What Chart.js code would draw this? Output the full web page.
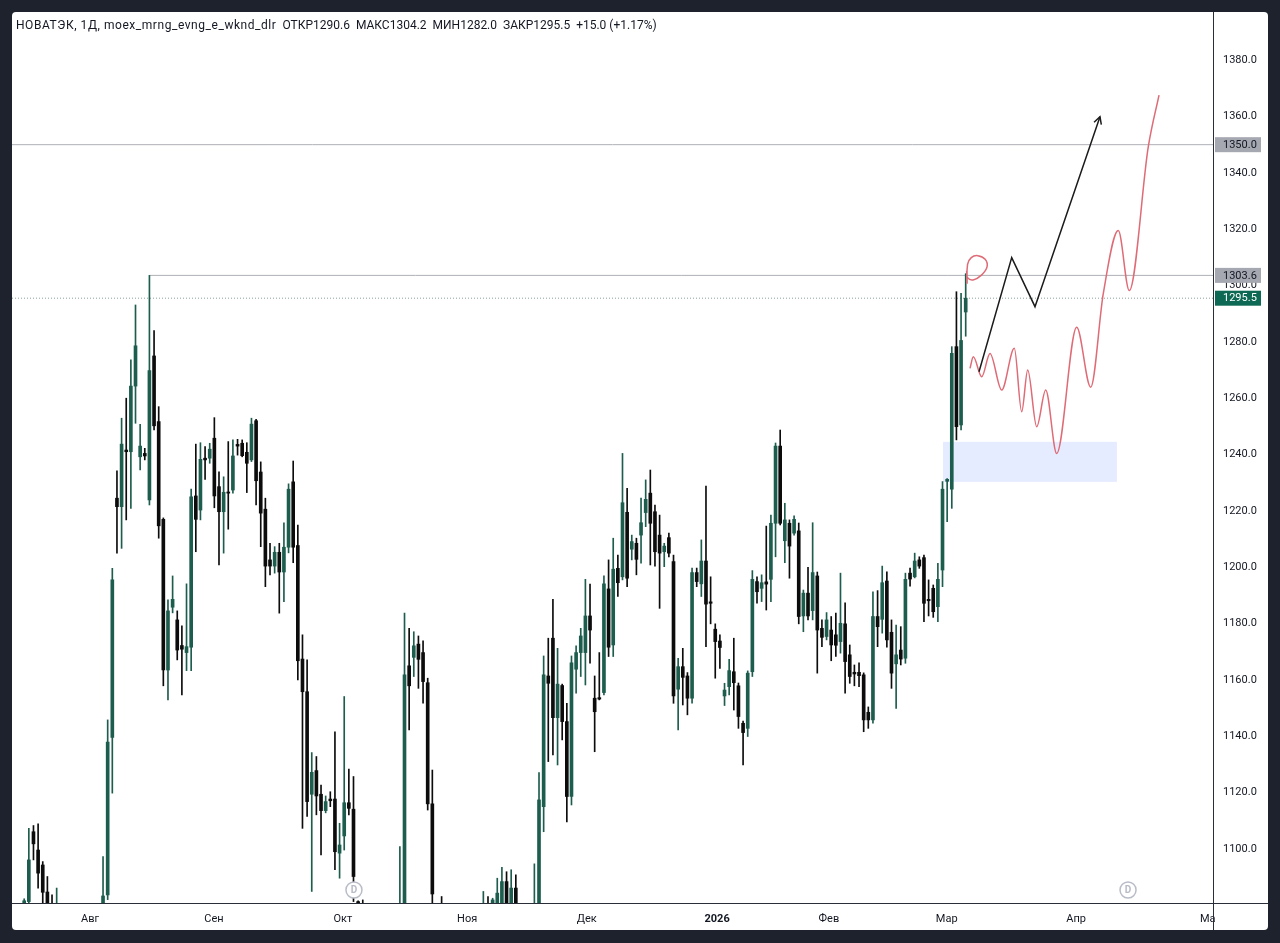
<!DOCTYPE html>
<html lang="ru">
<head>
<meta charset="utf-8">
<title>НОВАТЭК, 1Д</title>
<script src="https://cdn.jsdelivr.net/npm/chart.js@4.4.1/dist/chart.umd.min.js"></script>
<style>
  html, body { margin: 0; padding: 0; background: #1e222d; }
  body { width: 1280px; height: 943px; overflow: hidden; position: relative; }
  #panel { position: absolute; left: 12px; top: 12px; width: 1256px; height: 918px; background: #fff; border-radius: 4px; overflow: hidden; }
  #chart { position: absolute; left: 0; top: 0; }
  #legend { position: absolute; left: 4px; top: 6px; font: 12px Roboto, sans-serif; color: #131722; white-space: nowrap; }
  #legend .ticker { letter-spacing: 0.55px; }
  #legend span.v { margin-left: 6px; }
</style>
</head>
<body>
<div id="panel">
  <canvas id="chart" width="1256" height="918"></canvas>
  <div id="legend"></div>
</div>
<script>
const ticker = "НОВАТЭК, 1Д, moex_mrng_evng_e_wknd_dlr";

// one value per bar slot, slot 0 at the left edge; null = bar is off screen (below the pane)
const opens = [
  null, null, 1080.2, 1081.3, 1106.1, 1099.6, 1094.3, 1084.7, 1077, 1073,
  null, null, null, null, null, null, null, null, null, 1070,
  1083.7, 1139.6, 1224.5, 1221.5, 1241.6, 1241.0, 1264.3, 1239.2, 1240.4, 1223.9,
  1275.0, 1251.7, 1217.0, 1163.5, 1185.8, 1181.3, 1172.2, 1169.7, 1171.6, 1225.3,
  1220.3, 1238.7, 1238.7, 1245.8, 1228.6, 1219.7, 1226.7, 1227.4, 1243.6, 1244.0,
  1240.8, 1238.1, 1252.0, 1233.8, 1220.6, 1202.6, 1200.4, 1205.3, 1198.3, 1207.1,
  1230.3, 1207.7, 1167.4, 1155.8, 1119.4, 1127.8, 1119.4, 1113.6, 1117.7, 1117.7,
  1098.5, 1104.6, 1116.4, 1114.1, 1081.3, 1078, null, null, null, null,
  null, null, null, 1072, 1077, 1165.0, 1168.0, 1172.7, 1169.7, 1159.0,
  1116.0, null, 1074, null, null, null, null, null, null, null,
  null, 1070, 1080.5, 1078, 1079, 1080, 1088.4, 1079, 1086.1, null,
  null, null, 1072, 1079, 1115.0, 1161.4, 1174.8, 1146.6, 1158.0, 1145.2,
  1118.6, 1163.8, 1169.7, 1169.7, 1182.7, 1153.5, 1153.7, 1155.5, 1192.3, 1172.4,
  1199.6, 1196.6, 1219.5, 1206.4, 1208.5, 1211.4, 1219.4, 1226.3, 1219.7, 1211.4,
  1205.5, 1210.5, 1202.0, 1156.7, 1164.7, 1161.4, 1153.5, 1198.1, 1194.1, 1202.2,
  1187.7, 1178.0, 1173.8, 1154.3, 1157.6, 1162.9, 1157.9, 1144.6, 1142.8, 1162.9,
  1194.9, 1192.5, 1194.8, 1195.7, 1215.6, 1243.0, 1209.4, 1215.6, 1212.1, 1212.9,
  1182.7, 1190.8, 1184.6, 1196.9, 1178.3, 1175.4, 1177.7, 1176.0, 1173.6, 1179.9,
  1168.9, 1162.7, 1162.7, 1161.8, 1148.5, 1145.8, 1182.5, 1181.5, 1195.1, 1176.9,
  1165.7, 1170.6, 1167.7, 1197.9, 1196.6, 1202.6, 1203.4, 1188.6, 1192.5, 1186.0,
  1199.0, 1230.5, 1227.7, 1278.3, 1250.5, 1290.6
];
const highs = [
  null, null, 1082.3, 1107.3, 1108.3, 1108.9, 1095.5, 1090.2, 1083.7, 1086.1,
  null, null, null, null, null, null, null, null, null, 1097.3,
  1145.8, 1199.6, 1234.2, 1252.9, 1260.0, 1273.6, 1293.1, 1250.7, 1242.2, 1303.6,
  1284.0, 1257.0, 1217.5, 1188.4, 1196.9, 1184.5, 1179.2, 1194.1, 1227.7, 1243.7,
  1244.2, 1242.8, 1244.0, 1253.1, 1233.9, 1232.1, 1244.6, 1245.2, 1245.4, 1245.2,
  1244.2, 1252.9, 1252.5, 1237.4, 1224.5, 1208.5, 1207.3, 1208.5, 1215.8, 1229.6,
  1237.7, 1215.0, 1176.0, 1167.1, 1134.2, 1132.8, 1122.7, 1118.8, 1120.3, 1141.6,
  1109.1, 1154.1, 1128.3, 1125.7, 1081.6, 1081.9, null, null, null, null,
  null, null, null, 1100.8, 1183.7, 1178.3, 1177.1, 1175.6, 1173.9, 1160.6,
  1128.0, null, 1083.1, null, null, null, null, null, null, null,
  null, 1084.9, 1083.1, 1082.5, 1089.6, 1093.5, 1091.9, 1092.6, 1090.8, null,
  null, null, 1094.7, 1127.1, 1168.5, 1174.8, 1188.6, 1171.2, 1158.5, 1151.7,
  1168.5, 1172.1, 1178.3, 1195.7, 1194.0, 1161.4, 1169.7, 1196.9, 1202.6, 1210.3,
  1204.3, 1240.4, 1228.0, 1211.4, 1210.3, 1224.5, 1231.0, 1234.5, 1222.1, 1218.5,
  1208.5, 1212.1, 1204.3, 1167.7, 1171.2, 1162.6, 1199.7, 1199.7, 1209.7, 1228.8,
  1196.6, 1179.9, 1176.0, 1158.8, 1167.3, 1174.8, 1158.9, 1145.4, 1163.2, 1198.8,
  1196.6, 1197.3, 1214.6, 1218.5, 1244.1, 1248.7, 1222.7, 1216.8, 1218.2, 1215.7,
  1191.9, 1200.0, 1215.8, 1198.3, 1181.3, 1183.9, 1182.5, 1183.7, 1197.9, 1187.4,
  1172.4, 1165.3, 1166.1, 1162.5, 1150.4, 1191.3, 1191.7, 1200.4, 1198.4, 1181.3,
  1179.5, 1178.9, 1197.9, 1199.7, 1205.0, 1203.7, 1204.3, 1195.5, 1193.7, 1201.4,
  1230.4, 1231.5, 1278.3, 1297.8, 1297.2, 1304.2
];
const lows = [
  null, null, 1078, 1078, 1096.1, 1086.1, 1078, 1072, 1070, 1068,
  null, null, null, null, null, null, null, null, null, 1065,
  1082, 1119.8, 1205.0, 1206.7, 1216.8, 1220.9, 1251.1, 1234.5, 1238.1, 1222.1,
  1248.7, 1210.3, 1157.9, 1152.9, 1183.8, 1167.1, 1154.7, 1163.3, 1163.3, 1205.5,
  1216.8, 1231.2, 1236.9, 1221.1, 1200.8, 1205.0, 1213.5, 1226.3, 1239.8, 1239.2,
  1226.5, 1237.5, 1222.1, 1207.3, 1193.1, 1197.3, 1197.9, 1183.7, 1187.8, 1205.1,
  1201.6, 1160.0, 1107.3, 1111.5, 1084.9, 1112.1, 1097.9, 1112.8, 1115.0, 1092.6,
  1089.6, 1099.6, 1112.1, 1081.3, 1075, 1070, null, null, null, null,
  null, null, null, 1065, 1074, 1142.2, 1161.2, 1157.0, 1151.7, 1113.8,
  1070, null, 1068, null, null, null, null, null, null, null,
  null, 1065, 1072, 1074, 1075, 1076, 1076, 1075, 1074, null,
  null, null, 1064, 1075, 1106.1, 1131.0, 1133.4, 1129.8, 1138.7, 1109.6,
  1115.6, 1155.3, 1161.2, 1158.2, 1165.9, 1134.5, 1152.9, 1154.7, 1168.3, 1168.3,
  1189.6, 1195.5, 1193.1, 1202.6, 1197.3, 1201.4, 1214.4, 1200.8, 1200.4, 1185.4,
  1200.2, 1203.7, 1151.7, 1142.2, 1151.1, 1147.6, 1151.7, 1193.1, 1189.6, 1171.8,
  1179.9, 1160.6, 1164.1, 1150.9, 1154.7, 1149.3, 1142.8, 1129.8, 1139.9, 1161.2,
  1187.2, 1187.8, 1184.8, 1187.8, 1203.7, 1215.0, 1201.6, 1196.1, 1211.4, 1179.9,
  1177.1, 1181.3, 1181.3, 1162.4, 1171.8, 1174.2, 1166.8, 1168.3, 1169.5, 1155.3,
  1158.8, 1157.9, 1157.6, 1141.6, 1142.8, 1144.6, 1171.8, 1176.6, 1171.6, 1157.0,
  1149.9, 1165.3, 1165.9, 1193.3, 1196.2, 1199.6, 1180.7, 1182.7, 1182.2, 1180.7,
  1193.1, 1216.2, 1220.9, 1245.2, 1248.7, 1282.0
];
const closes = [
  null, null, 1081.6, 1096.1, 1101.8, 1091.4, 1084.6, 1076, 1073, 1075,
  null, null, null, null, null, null, null, null, null, 1083.3,
  1137.9, 1195.5, 1221.5, 1243.7, 1241.0, 1264.3, 1278.6, 1243.0, 1239.5, 1269.8,
  1250.2, 1214.7, 1163.5, 1184.5, 1188.6, 1170.6, 1170.9, 1171.8, 1225.0, 1217.0,
  1238.3, 1238.1, 1241.9, 1225.3, 1219.7, 1226.6, 1226.3, 1239.5, 1243.0, 1239.6,
  1236.9, 1250.8, 1230.7, 1219.2, 1200.4, 1200.4, 1205.3, 1198.3, 1207.1, 1227.7,
  1207.1, 1166.8, 1155.8, 1116.8, 1127.2, 1118.8, 1113.6, 1116.8, 1117.1, 1099.0,
  1101.4, 1116.4, 1114.4, 1090.2, 1078, 1074, null, null, null, null,
  null, null, null, 1077, 1161.8, 1157.9, 1172.1, 1167.3, 1159.4, 1116.0,
  1084.0, null, 1070, null, null, null, null, null, null, null,
  null, 1075, 1077, 1081.9, 1084.3, 1088.4, 1079, 1086.1, 1078, null,
  null, null, 1079, 1117.4, 1161.8, 1158.8, 1146.6, 1158.5, 1145.2, 1118.6,
  1166.1, 1169.7, 1175.6, 1182.7, 1177.7, 1148.7, 1153.2, 1194.1, 1171.6, 1199.3,
  1194.5, 1222.9, 1196.1, 1209.1, 1202.8, 1215.8, 1224.1, 1215.6, 1205.5, 1205.0,
  1207.5, 1205.0, 1154.3, 1164.7, 1160.9, 1153.5, 1198.1, 1194.9, 1202.2, 1186.9,
  1187.2, 1173.6, 1171.5, 1156.4, 1163.3, 1159.0, 1147.0, 1141.3, 1162.4, 1195.7,
  1191.3, 1194.5, 1194.0, 1215.6, 1243.0, 1215.6, 1216.8, 1207.5, 1217.0, 1182.5,
  1190.8, 1182.7, 1198.1, 1177.7, 1175.1, 1181.3, 1172.4, 1172.3, 1180.1, 1166.5,
  1161.2, 1162.1, 1161.5, 1145.8, 1145.8, 1182.5, 1178.9, 1194.5, 1174.2, 1162.4,
  1168.9, 1167.4, 1195.7, 1195.8, 1202.2, 1200.4, 1187.2, 1188.1, 1184.2, 1195.7,
  1227.7, 1231.2, 1275.9, 1249.9, 1280.5, 1295.5
];

// time axis: month labels placed at the slot where each month starts
const monthLabels = ["Авг", "Сен", "Окт", "Ноя", "Дек", "2026", "Фев", "Мар", "Апр", "Ма"];
const monthPos = [16.2, 42.9, 70.7, 97.5, 123.3, 151.4, 175.5, 200.9, 228.8, 257.2];
const priceTicks = [1100, 1120, 1140, 1160, 1180, 1200, 1220, 1240, 1260, 1280, 1300, 1320, 1340, 1360, 1380];

// visible range of the pane
const xMin = -0.63, xMax = 258.32;
const yMin = 1080.8, yMax = 1397.1;

// drawings on the chart
const resistance = 1350.0;
const prevHigh = 1303.6, prevHighIdx = 29;
const zoneIdx = [200.1, 237.6];
const zonePrice = [1230.3, 1244.5];
const arrowIdx = [207.87, 214.92, 219.94, 233.95];
const arrowPrice = [1269.4, 1309.9, 1292.5, 1359.9];
const waveIdx = [205.93, 206.64, 208.45, 210.24, 212.76, 215.48, 217.07, 218.37, 220.31,
  222.25, 224.62, 228.93, 231.95, 234.67, 237.9, 240.27, 244.37, 246.68];
const wavePrice = [1270.6, 1274.7, 1267.6, 1275.9, 1262.9, 1277.7, 1255.2, 1270.0, 1249.9,
  1262.9, 1240.4, 1285.2, 1263.9, 1297.2, 1319.5, 1298.2, 1349.3, 1367.6];
const loopIdx = [205.3, 205.4, 206.2, 207.6, 209.2, 209.6, 208.4, 206.6, 205.4, 205.2];
const loopPrice = [1300.6, 1307.5, 1309.9, 1310.6, 1309.3, 1306.6, 1303.7, 1302.0, 1302.8, 1305.2];
const dividendIdx = [73.1, 240.0];

const UP = "#1d5d4d";
const DOWN = "#0c0c0c";
const FONT = "Roboto";

const last = opens.length - 1;
const change = closes[last] - closes[last - 1];
const changePct = (change / closes[last - 1]) * 100;
const sign = (v) => (v >= 0 ? "+" : "");

document.getElementById("legend").innerHTML =
  `<span class="ticker">${ticker}</span><span class="v">ОТКР${opens[last].toFixed(1)}</span>` +
  `<span class="v">МАКС${highs[last].toFixed(1)}</span><span class="v">МИН${lows[last].toFixed(1)}</span>` +
  `<span class="v">ЗАКР${closes[last].toFixed(1)}</span>` +
  `<span class="v">${sign(change)}${change.toFixed(1)} (${sign(changePct)}${changePct.toFixed(2)}%)</span>`;

const wicks = [];
const bodies = [];
opens.forEach((o, i) => {
  if (o === null) return;
  const up = closes[i] >= o;
  wicks.push({ x: i, y: [lows[i], highs[i]], up });
  bodies.push({ x: i, y: [o, closes[i]], up });
});

const candleColor = (c) => (c.raw && c.raw.up ? UP : DOWN);
const pts = (xs, ys) => xs.map((x, i) => ({ x, y: ys[i] }));

const overlays = {
  id: "overlays",
  beforeDatasetsDraw(chart) {
    const { ctx, scales: { x, y } } = chart;
    const x0 = x.getPixelForValue(zoneIdx[0]);
    const x1 = x.getPixelForValue(zoneIdx[1]);
    const y0 = y.getPixelForValue(zonePrice[1]);
    const y1 = y.getPixelForValue(zonePrice[0]);
    ctx.save();
    ctx.fillStyle = "rgba(41, 98, 255, 0.12)";
    ctx.fillRect(x0, y0, x1 - x0, y1 - y0);
    ctx.restore();
  },
  afterDatasetsDraw(chart) {
    const { ctx, chartArea, scales: { x, y } } = chart;
    ctx.save();

    // arrow head at the end of the black path
    const n = arrowIdx.length - 1;
    const tx = x.getPixelForValue(arrowIdx[n]);
    const ty = y.getPixelForValue(arrowPrice[n]);
    const px = x.getPixelForValue(arrowIdx[n - 1]);
    const py = y.getPixelForValue(arrowPrice[n - 1]);
    const ang = Math.atan2(ty - py, tx - px);
    ctx.strokeStyle = "#1b1b1b";
    ctx.lineWidth = 1.5;
    ctx.beginPath();
    ctx.moveTo(tx - 8 * Math.cos(ang - 0.5), ty - 8 * Math.sin(ang - 0.5));
    ctx.lineTo(tx, ty);
    ctx.lineTo(tx - 8 * Math.cos(ang + 0.5), ty - 8 * Math.sin(ang + 0.5));
    ctx.stroke();

    // dividend markers along the bottom of the pane
    dividendIdx.forEach((d) => {
      const cx = x.getPixelForValue(d);
      const cy = chartArea.bottom - 13;
      ctx.fillStyle = "#fff";
      ctx.strokeStyle = "#b8bcc6";
      ctx.lineWidth = 1.5;
      ctx.beginPath();
      ctx.arc(cx, cy, 8, 0, Math.PI * 2);
      ctx.fill();
      ctx.stroke();
      ctx.fillStyle = "#b8bcc6";
      ctx.font = `bold 10px ${FONT}`;
      ctx.textAlign = "center";
      ctx.textBaseline = "middle";
      ctx.fillText("D", cx, cy + 0.5);
    });
    ctx.restore();
  },
  afterDraw(chart) {
    const { ctx, chartArea, scales: { y } } = chart;
    ctx.save();
    ctx.strokeStyle = "#2a2e39";
    ctx.lineWidth = 1;
    ctx.beginPath();
    ctx.moveTo(0, Math.round(chartArea.bottom) + 0.5);
    ctx.lineTo(chart.width, Math.round(chartArea.bottom) + 0.5);
    ctx.moveTo(Math.round(chartArea.right) + 0.5, 0);
    ctx.lineTo(Math.round(chartArea.right) + 0.5, chart.height);
    ctx.stroke();

    // price labels on the axis
    const labels = [
      { v: resistance, bg: "#a5a8b0", fg: "#131722" },
      { v: prevHigh, bg: "#a5a8b0", fg: "#131722" },
      { v: closes[last], bg: "#0d6953", fg: "#ffffff" },
    ];
    labels.forEach((l) => {
      const yp = y.getPixelForValue(l.v);
      ctx.fillStyle = l.bg;
      ctx.fillRect(chartArea.right + 2, yp - 7.5, 46, 15);
      ctx.fillStyle = l.fg;
      ctx.font = `11px ${FONT}`;
      ctx.textAlign = "left";
      ctx.textBaseline = "middle";
      ctx.fillText(l.v.toFixed(1), chartArea.right + 10, yp + 0.5);
    });
    ctx.restore();
  },
};

new Chart(document.getElementById("chart"), {
  type: "bar",
  data: {
    datasets: [
      {
        type: "line",
        data: pts([xMin, xMax], [resistance, resistance]),
        borderColor: "#aeb0b6",
        borderWidth: 1,
        pointRadius: 0,
        order: 7,
      },
      {
        type: "line",
        data: pts([prevHighIdx, xMax], [prevHigh, prevHigh]),
        borderColor: "#aeb0b6",
        borderWidth: 1,
        pointRadius: 0,
        order: 7,
      },
      {
        type: "line",
        data: pts([xMin, xMax], [closes[last], closes[last]]),
        borderColor: "#8aa39c",
        borderWidth: 1,
        borderDash: [1, 2],
        pointRadius: 0,
        order: 7,
      },
      {
        data: wicks,
        backgroundColor: candleColor,
        barThickness: 1,
        grouped: false,
        clip: 0,
        order: 6,
      },
      {
        data: bodies,
        backgroundColor: candleColor,
        barThickness: 3,
        minBarLength: 1,
        grouped: false,
        clip: 0,
        order: 5,
      },
      {
        type: "line",
        data: pts(waveIdx, wavePrice),
        borderColor: "#de6b76",
        borderWidth: 1.5,
        cubicInterpolationMode: "monotone",
        pointRadius: 0,
        order: 2,
      },
      {
        type: "line",
        data: pts(loopIdx, loopPrice),
        borderColor: "#de6b76",
        borderWidth: 1.5,
        tension: 0.4,
        pointRadius: 0,
        order: 2,
      },
      {
        type: "line",
        data: pts(arrowIdx, arrowPrice),
        borderColor: "#1b1b1b",
        borderWidth: 1.5,
        pointRadius: 0,
        order: 1,
      },
    ],
  },
  options: {
    responsive: false,
    animation: false,
    events: [],
    layout: { padding: 0 },
    plugins: { legend: { display: false }, tooltip: { enabled: false } },
    scales: {
      x: {
        type: "linear",
        min: xMin,
        max: xMax,
        offset: false,
        grid: { display: false },
        border: { display: false },
        afterBuildTicks: (s) => {
          s.ticks = monthPos.map((v) => ({ value: v }));
        },
        afterFit: (s) => {
          s.height = 27;
          s.paddingLeft = 0;
          s.paddingRight = 0;
        },
        ticks: {
          autoSkip: false,
          maxRotation: 0,
          padding: 2,
          color: "#131722",
          font: (c) => ({ family: FONT, size: 11, weight: monthLabels[c.index] === "2026" ? "bold" : "normal" }),
          callback: (v, i) => monthLabels[i],
        },
      },
      y: {
        type: "linear",
        position: "right",
        min: yMin,
        max: yMax,
        grid: { display: false },
        border: { display: false },
        afterBuildTicks: (s) => {
          s.ticks = priceTicks.map((v) => ({ value: v }));
        },
        afterFit: (s) => {
          s.width = 55;
          s.paddingTop = 0;
          s.paddingBottom = 0;
        },
        ticks: {
          padding: 2,
          color: "#131722",
          font: { family: FONT, size: 11 },
          callback: (v) => v.toFixed(1),
        },
      },
    },
  },
  plugins: [overlays],
});
</script>
</body>
</html>
